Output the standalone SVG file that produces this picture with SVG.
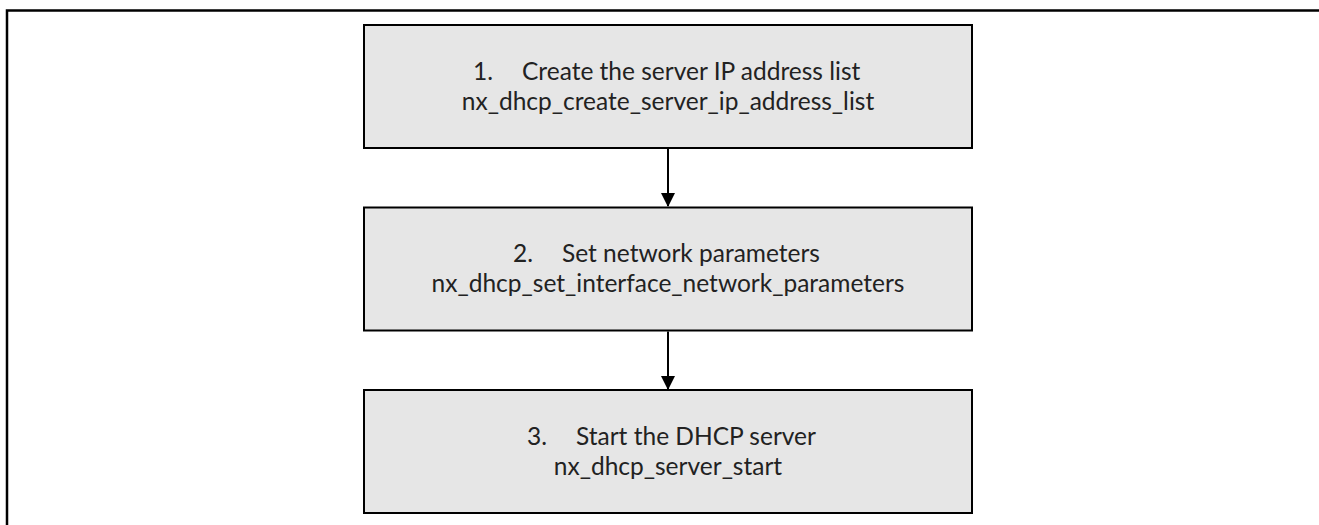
<svg xmlns="http://www.w3.org/2000/svg" width="1319" height="525" viewBox="0 0 1319 525">
<style>
.box{fill:#e6e6e6;stroke:#000;stroke-width:2}
.t{font-family:Lato,"Open Sans",sans-serif;font-size:24.5px;fill:#222}
.c{text-anchor:middle}
.conn{stroke:#000;stroke-width:2;fill:none}
</style>
<defs>
<marker id="ah" markerWidth="14" markerHeight="14" refX="13" refY="7" orient="auto" markerUnits="userSpaceOnUse">
<path d="M0,0 L14,7 L0,14 Z" fill="#000"/>
</marker>
</defs>
<rect width="1319" height="525" fill="#fff"/>
<path d="M7,526 V10.5 H1320" fill="none" stroke="#000" stroke-width="2.5"/>
<g id="node1">
<rect class="box" x="364" y="25" width="608" height="123"/>
<text class="t" y="80"><tspan x="473">1.</tspan><tspan x="522">Create the server IP address list</tspan></text>
<text class="t c" x="668" y="110">nx_dhcp_create_server_ip_address_list</text>
</g>
<g id="node2">
<rect class="box" x="364" y="207.5" width="608" height="123"/>
<text class="t" y="262"><tspan x="513">2.</tspan><tspan x="562">Set network parameters</tspan></text>
<text class="t c" x="668" y="292">nx_dhcp_set_interface_network_parameters</text>
</g>
<g id="node3">
<rect class="box" x="364" y="390" width="608" height="123"/>
<text class="t" y="445"><tspan x="527">3.</tspan><tspan x="576">Start the DHCP server</tspan></text>
<text class="t c" x="668" y="475">nx_dhcp_server_start</text>
</g>
<g id="connectors">
<line class="conn" x1="668" y1="149" x2="668" y2="206" marker-end="url(#ah)"/>
<line class="conn" x1="668" y1="331.5" x2="668" y2="389" marker-end="url(#ah)"/>
</g>
</svg>
